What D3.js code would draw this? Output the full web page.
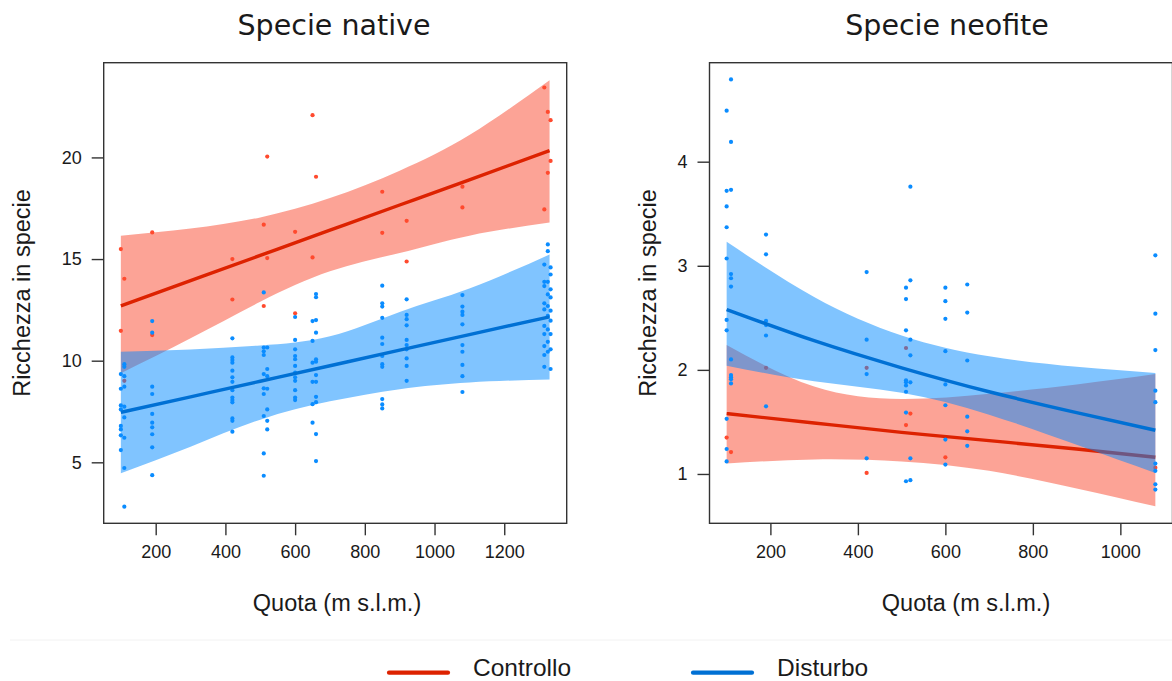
<!DOCTYPE html>
<html>
<head>
<meta charset="utf-8">
<script src="https://cdn.jsdelivr.net/npm/d3@7"></script>
<style>
body { margin: 0; background: #fff; }
svg text { font-family: "Liberation Sans", Arial, sans-serif; fill: #1a1a1a; }
</style>
</head>
<body>
<svg width="1172" height="681"></svg>
<script>
// ---- Specie native ----
var nativeRedSites = [100, 110, 190, 420, 510, 520, 600, 650, 660, 850, 920, 1080, 1315, 1325, 1333];
var nativeRedValues = [
  [15.49, 11.47], [14.03, 9.01], [16.31, 11.26], [15.0, 13.01], [16.69, 12.69],
  [20.04, 15.05], [16.34, 12.33], [22.08, 15.08], [19.05], [18.31, 16.29],
  [16.88, 14.88], [18.56, 17.54], [23.44, 17.44], [22.24, 19.24], [21.83, 19.83]
];
var nativeBlueSites = [100, 110, 190, 420, 510, 520, 600, 650, 660, 850, 920, 1080, 1315, 1325, 1333];
var nativeBlueValues = [
  [9.34, 8.62, 7.80, 7.60, 6.79, 6.62, 6.33, 5.60],
  [9.83, 9.70, 9.24, 8.72, 7.74, 7.21, 6.21, 4.72, 2.82],
  [11.95, 11.38, 8.72, 8.36, 7.38, 6.95, 6.72, 6.38, 5.74, 4.37],
  [11.10, 10.16, 10.03, 9.90, 9.51, 9.18, 8.96, 8.55, 8.19, 8.06, 7.95, 7.16, 7.04, 6.51],
  [13.36, 10.65, 10.46, 10.28, 9.34, 8.64, 8.36, 7.28, 5.44, 4.34],
  [10.65, 9.59, 9.24, 8.62, 7.60, 7.04, 6.62],
  [12.15, 11.02, 10.56, 10.23, 10.07, 9.74, 9.41, 9.18, 9.01, 8.55, 8.19, 8.06],
  [11.95, 10.97, 9.90, 8.96, 7.86, 6.95],
  [13.28, 13.12, 12.0, 11.38, 10.07, 9.95, 9.29, 8.96, 8.22, 7.96, 6.39, 5.06],
  [13.69, 12.82, 12.66, 12.11, 11.13, 10.82, 10.23, 9.83, 9.70, 8.11, 7.85, 7.65],
  [13.02, 12.25, 12.04, 11.74, 11.02, 10.77, 10.56, 10.11, 9.74, 9.01],
  [13.23, 12.66, 12.41, 12.25, 11.79, 10.77, 10.44, 9.79, 9.24, 8.46],
  [14.73, 13.88, 13.67, 12.82, 12.52, 11.71, 11.31, 10.72, 10.28, 9.70],
  [15.72, 15.39, 13.88, 13.26, 12.69, 12.20, 11.54, 10.93, 10.44],
  [14.59, 14.24, 13.51, 13.11, 12.46, 11.97, 11.31, 10.56, 9.59]
];
// fitted lines + confidence bands
var nativeBandX = [100, 300, 500, 700, 900, 1100, 1330];
var nativeRedFit = [12.7, 13.94, 15.18, 16.42, 17.66, 18.9, 20.33];
var nativeRedLow = [9.38, 11.1, 12.9, 14.4, 15.3, 16.15, 16.8];
var nativeRedHigh = [16.15, 16.5, 17.05, 18.0, 19.35, 21.1, 23.8];
var nativeBlueFit = [7.46, 8.22, 8.99, 9.75, 10.52, 11.28, 12.16];
var nativeBlueLow = [4.46, 5.77, 7.1, 8.0, 8.6, 8.93, 9.08];
var nativeBlueHigh = [10.44, 10.55, 10.75, 11.2, 12.4, 13.55, 15.23];

// ---- Specie neofite ----
var neoRedSites = [100, 110, 190, 420, 510, 520, 600, 1080];
var neoRedValues = [[1.35], [1.21], [2.02], [2.02, 1.01], [2.21, 1.47], [1.58], [1.16], [1.06]];
var neoBlueSites = [100, 110, 190, 420, 510, 520, 600, 650, 1080];
var neoBlueValues = [
  [4.49, 3.72, 3.57, 3.37, 3.07, 2.48, 2.38, 1.53, 1.24, 1.12],
  [4.79, 4.19, 3.73, 2.92, 2.88, 2.80, 2.10, 1.95, 1.93, 1.91, 1.87],
  [3.30, 3.11, 2.47, 2.43, 2.33, 1.65],
  [2.94, 2.29, 1.96, 1.15],
  [2.79, 2.68, 2.38, 1.90, 1.88, 1.85, 1.79, 1.59, 0.93],
  [3.76, 2.86, 2.29, 2.14, 1.88, 1.15, 0.94],
  [2.79, 2.66, 2.49, 2.18, 1.86, 1.66, 1.33, 1.09],
  [2.82, 2.55, 2.09, 1.55, 1.41, 1.27],
  [3.10, 2.54, 2.19, 1.80, 1.69, 1.10, 1.03, 0.90, 0.85]
];
var neoBandX = [100, 300, 500, 700, 900, 1080];
var neoRedFit = [1.58, 1.49, 1.40, 1.32, 1.24, 1.16];
var neoRedLow = [1.10, 1.14, 1.12, 1.03, 0.86, 0.69];
var neoRedHigh = [2.24, 1.84, 1.72, 1.77, 1.86, 1.96];
var neoBlueFit = [2.58, 2.28, 2.02, 1.79, 1.59, 1.42];
var neoBlueLow = [2.04, 1.89, 1.78, 1.57, 1.28, 1.01];
var neoBlueHigh = [3.23, 2.70, 2.33, 2.13, 2.03, 1.97];

var nativeXTicks = [200, 400, 600, 800, 1000, 1200];
var nativeYTicks = [5, 10, 15, 20];
var neoXTicks = [200, 400, 600, 800, 1000];
var neoYTicks = [1, 2, 3, 4];

var redBand = "rgb(250,72,45)", blueBand = "rgb(1,137,255)";
var redPt = "#ff4a2e", bluePt = "#0a8cff";
var redLine = "#dd2200", blueLine = "#0070d4";

var svg = d3.select("svg");

function flatten(sites, values) {
  var out = [];
  sites.forEach(function(s, i) {
    values[i].forEach(function(v) { out.push([s, v]); });
  });
  return out;
}

function drawPanel(p) {
  var x = d3.scaleLinear().domain(p.xDomain).range([p.left, p.left + 463]);
  var y = d3.scaleLinear().domain(p.yDomain).range([523.3, 62.7]);
  var g = svg.append("g");
  var clip = "clip-" + p.id;
  g.append("clipPath").attr("id", clip).append("rect")
    .attr("x", p.left).attr("y", 62.7).attr("width", 463).attr("height", 460.6);
  var plot = g.append("g").attr("clip-path", "url(#" + clip + ")");

  var area = d3.area().curve(d3.curveNatural)
    .x(function(d) { return x(d[0]); })
    .y0(function(d) { return y(d[1]); })
    .y1(function(d) { return y(d[2]); });
  var line = d3.line().curve(d3.curveNatural)
    .x(function(d) { return x(d[0]); })
    .y(function(d) { return y(d[1]); });

  function group(bandX, low, high, fit, sites, values, bandCol, ptCol, lineCol) {
    plot.append("path")
      .datum(bandX.map(function(v, i) { return [v, low[i], high[i]]; }))
      .attr("d", area).attr("fill", bandCol).attr("fill-opacity", 0.5);
    plot.selectAll(null).data(flatten(sites, values)).enter().append("circle")
      .attr("cx", function(d) { return x(d[0]); })
      .attr("cy", function(d) { return y(d[1]); })
      .attr("r", 2.1).attr("fill", ptCol);
    plot.append("path")
      .datum(bandX.map(function(v, i) { return [v, fit[i]]; }))
      .attr("d", line).attr("fill", "none").attr("stroke", lineCol)
      .attr("stroke-width", 3.4);
  }
  group(p.bandX, p.redLow, p.redHigh, p.redFit, p.redSites, p.redValues, redBand, redPt, redLine);
  group(p.bandX, p.blueLow, p.blueHigh, p.blueFit, p.blueSites, p.blueValues, blueBand, bluePt, blueLine);

  // box
  g.append("rect").attr("x", p.left).attr("y", 62.7).attr("width", 463).attr("height", 460.6)
    .attr("fill", "none").attr("stroke", "#333").attr("stroke-width", 1.4);

  var xa = g.append("g").attr("transform", "translate(0,523.3)")
    .call(d3.axisBottom(x).tickValues(p.xTicks).tickSize(12).tickPadding(10).tickFormat(d3.format("d")));
  var ya = g.append("g").attr("transform", "translate(" + p.left + ",0)")
    .call(d3.axisLeft(y).tickValues(p.yTicks).tickSize(12).tickPadding(10).tickFormat(d3.format("d")));
  [xa, ya].forEach(function(a) {
    a.select(".domain").remove();
    a.selectAll(".tick line").attr("stroke", "#333").attr("stroke-width", 1.4);
    a.selectAll(".tick text").attr("font-size", 18).attr("font-family", "Liberation Sans, Arial, sans-serif").attr("fill", "#1a1a1a");
  });

  g.append("text").attr("x", p.titleX).attr("y", 35).attr("text-anchor", "middle")
    .style("font-family", "DejaVu Sans, Verdana, sans-serif").attr("font-size", 28.5)
    .text(p.title);
  g.append("text").attr("x", p.xLabelX).attr("y", 611).attr("text-anchor", "middle")
    .attr("font-size", 23.5).text("Quota (m s.l.m.)");
  g.append("text").attr("transform", "translate(" + p.yLabelX + ",293) rotate(-90)")
    .attr("text-anchor", "middle").attr("dy", "0.35em").attr("font-size", 23.5)
    .text("Ricchezza in specie");
}

drawPanel({
  id: "native", left: 103.7, xDomain: [50.8, 1379.2], yDomain: [2.0, 24.66],
  bandX: nativeBandX, redFit: nativeRedFit, redLow: nativeRedLow, redHigh: nativeRedHigh,
  blueFit: nativeBlueFit, blueLow: nativeBlueLow, blueHigh: nativeBlueHigh,
  redSites: nativeRedSites, redValues: nativeRedValues,
  blueSites: nativeBlueSites, blueValues: nativeBlueValues,
  xTicks: nativeXTicks, yTicks: nativeYTicks,
  title: "Specie native", titleX: 334, xLabelX: 337, yLabelX: 22
});
drawPanel({
  id: "neo", left: 709.5, xDomain: [60.8, 1119.2], yDomain: [0.526, 4.951],
  bandX: neoBandX, redFit: neoRedFit, redLow: neoRedLow, redHigh: neoRedHigh,
  blueFit: neoBlueFit, blueLow: neoBlueLow, blueHigh: neoBlueHigh,
  redSites: neoRedSites, redValues: neoRedValues,
  blueSites: neoBlueSites, blueValues: neoBlueValues,
  xTicks: neoXTicks, yTicks: neoYTicks,
  title: "Specie neofite", titleX: 947, xLabelX: 966, yLabelX: 648
});

// legend
svg.append("line").attr("x1", 10).attr("x2", 1172).attr("y1", 640).attr("y2", 640)
  .attr("stroke", "#f2f2f2").attr("stroke-width", 1);
var legend = [["Controllo", redLine, 389], ["Disturbo", blueLine, 693]];
legend.forEach(function(l) {
  svg.append("line").attr("x1", l[2]).attr("x2", l[2] + 59).attr("y1", 672.7).attr("y2", 672.7)
    .attr("stroke", l[1]).attr("stroke-width", 4.2).attr("stroke-linecap", "round");
  svg.append("text").attr("x", l[2] + 84).attr("y", 676).attr("font-size", 24.5).text(l[0]);
});
</script>
</body>
</html>
